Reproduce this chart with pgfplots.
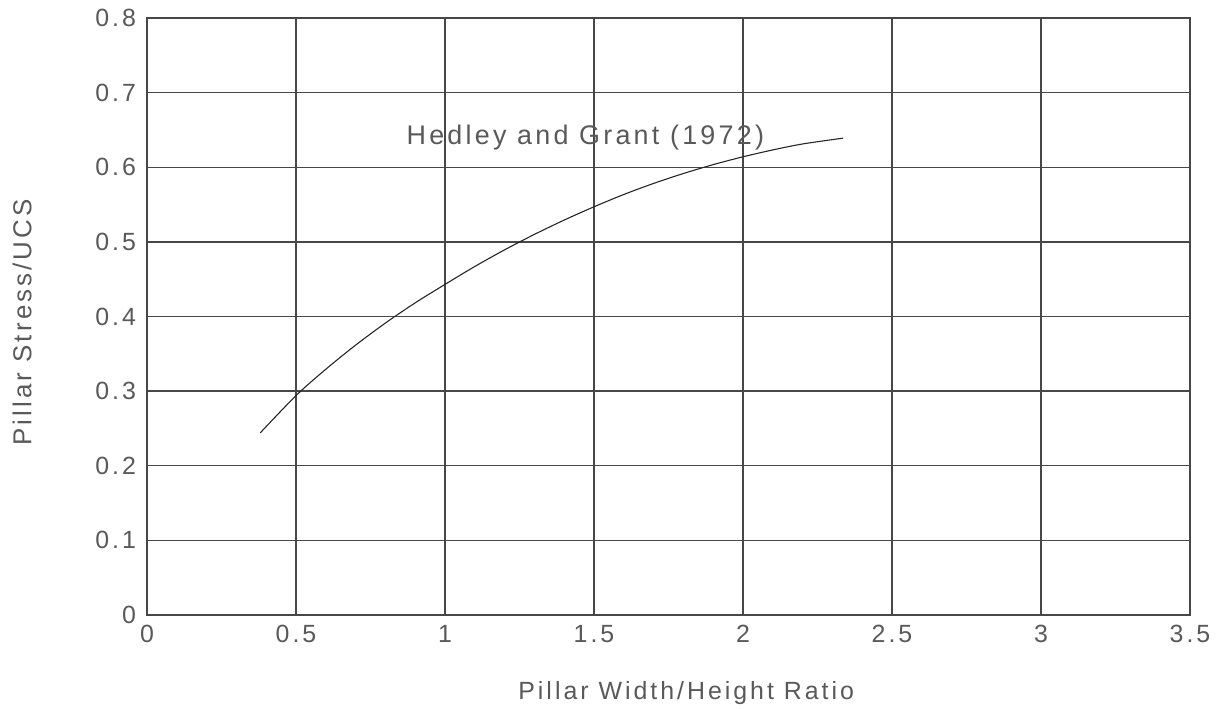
\documentclass[border=0pt]{standalone}
\usepackage{fontspec}
\setmainfont{Liberation Sans}[LetterSpace=12]
\usepackage{pgfplots}
\pgfplotsset{compat=1.18}
\begin{document}
\begin{tikzpicture}
\begin{axis}[
  scale only axis,
  width=521.5bp, height=298.5bp,
  xmin=0, xmax=3.5, ymin=0, ymax=0.8,
  xtick={0,0.5,...,3.5}, ytick={0,0.1,...,0.8},
  xticklabels={0,0.5,1,1.5,2,2.5,3,3.5},
  yticklabels={0,0.1,0.2,0.3,0.4,0.5,0.6,0.7,0.8},
  grid=major,
  major grid style={line width=0.7bp, draw=black!72},
  axis line style={line width=0.7bp, draw=black!72},
  major tick length=0pt,
  tick label style={font=\fontsize{12.5}{13}\selectfont, text=black!65},
  xticklabel style={yshift=-1.5bp},
  yticklabel style={xshift=-2bp},
  label style={font=\fontsize{12.5}{13}\selectfont, text=black!65},
  xlabel={Pillar Width/Height Ratio},
  ylabel={Pillar Stress/UCS},
  xlabel style={at={(axis description cs:0.517,-0.131)}, anchor=center},
  ylabel style={at={(axis description cs:-0.1198,0.49)}, anchor=center, font=\fontsize{13}{13}\selectfont},
]
\addplot[smooth, line width=0.55bp, draw=black!85] coordinates {
(0.38,0.244) (0.5,0.294) (0.6,0.3293) (0.7,0.3616) (0.8,0.3912) (0.9,0.4183)
(1.0,0.443) (1.1,0.467) (1.2,0.4893) (1.3,0.51) (1.4,0.5292) (1.5,0.547)
(1.6,0.5635) (1.7,0.5783) (1.8,0.5916) (1.9,0.6035) (2.0,0.614)
(2.1,0.6232) (2.2,0.6312) (2.336,0.639)
};
\node[font=\fontsize{13.5}{14}\selectfont, text=black!65] at (axis cs:1.471,0.640) {Hedley and Grant (1972)};
\end{axis}
\pgfresetboundingbox
\path ([shift={(-73.5bp,-47bp)}]current axis.south west) rectangle ([shift={(14.5bp,9bp)}]current axis.north east);
\end{tikzpicture}
\end{document}
